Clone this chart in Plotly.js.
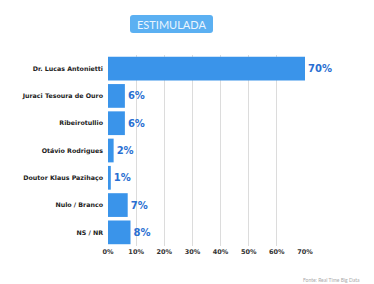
<!DOCTYPE html>
<html><head><meta charset="utf-8">
<script src="https://cdn.plot.ly/plotly-3.0.1.min.js"></script>
<style>html,body{margin:0;padding:0;background:#fff;}#c{width:374px;height:284px;}</style>
</head><body><div id="c"></div>
<script>
const categories = ["Dr. Lucas Antonietti","Juraci Tesoura de Ouro","Ribeirotullio","Otávio Rodrigues","Doutor Klaus Pazihaço","Nulo / Branco","NS / NR"];
const values = [70, 6, 6, 2, 1, 7, 8];
const valueLabels = ["70%","6%","6%","2%","1%","7%","8%"];
const xTicks = [0,10,20,30,40,50,60,70];
const xTickText = ["0%","10%","20%","30%","40%","50%","60%","70%"];
const badgeText = "ESTIMULADA";
const sourceText = "Fonte: Real Time Big Data";

// rounded rectangle path (pixels, centred on anchor)
function roundRect(w, h, r) {
  const x0 = -w/2, x1 = w/2, y0 = -h/2, y1 = h/2;
  return `M${x0+r},${y0} L${x1-r},${y0} Q${x1},${y0} ${x1},${y0+r} L${x1},${y1-r} Q${x1},${y1} ${x1-r},${y1} ` +
         `L${x0+r},${y1} Q${x0},${y1} ${x0},${y1-r} L${x0},${y0+r} Q${x0},${y0} ${x0+r},${y0} Z`;
}
const bx = (171.5-108)/197, by = 1 + (55-24)/191;

const trace = {
  type: "bar", orientation: "h",
  y: categories, x: values,
  text: valueLabels, textposition: "outside", cliponaxis: false,
  textfont: {family: "'DejaVu Sans', sans-serif", size: 10, color: "#2a6fd2", weight: "bold"},
  marker: {color: "#3a94ea", line: {width: 0}},
  width: 0.87, hoverinfo: "skip"
};
const layout = {
  width: 374, height: 284,
  margin: {l: 108, r: 69, t: 55, b: 38},
  paper_bgcolor: "#fff", plot_bgcolor: "#fff",
  showlegend: false,
  xaxis: {range: [0, 70], tickvals: xTicks, ticktext: xTickText, showgrid: true, gridcolor: "#dcdcdc", gridwidth: 1,
          zeroline: false, showline: false, ticks: "", ticklen: 0,
          tickfont: {family: "'DejaVu Sans', sans-serif", size: 6.5, color: "#333", weight: "bold"}},
  yaxis: {autorange: "reversed", showgrid: false, zeroline: false, showline: false, ticks: "",
          ticklabelstandoff: 4,
          tickfont: {family: "'DejaVu Sans', sans-serif", size: 6.3, color: "#222", weight: "bold"}},
  shapes: [{type: "path", xref: "paper", yref: "paper", xsizemode: "pixel", ysizemode: "pixel",
            xanchor: bx, yanchor: by, path: roundRect(83, 18, 3),
            layer: "above", line: {width: 0}, fillcolor: "#5bb0f2"}],
  annotations: [
    {xref: "paper", yref: "paper", x: bx, y: by, text: badgeText, showarrow: false,
     font: {family: "Lato, sans-serif", size: 11, color: "#eaf5fe"},
     xanchor: "center", yanchor: "middle"},
    {xref: "paper", yref: "paper", x: (362-108)/197, y: -(280-246)/191, text: sourceText, showarrow: false,
     font: {family: "Lato, sans-serif", size: 5, color: "#aaa"}, xanchor: "right", yanchor: "middle"}
  ]
};
Plotly.newPlot("c", [trace], layout, {staticPlot: true, displayModeBar: false});
</script></body></html>
